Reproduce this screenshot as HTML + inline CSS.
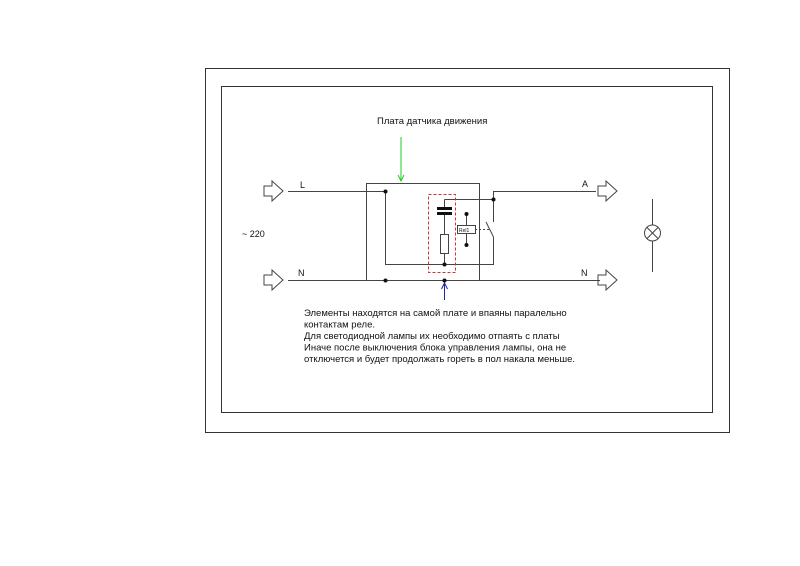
<!DOCTYPE html>
<html><head><meta charset="utf-8"><style>
body{margin:0;background:#fff;}
svg{display:block;}
text{font-family:"Liberation Sans",sans-serif;fill:#111;}
</style></head><body>
<svg width="800" height="566" viewBox="0 0 800 566" xmlns="http://www.w3.org/2000/svg">
<rect x="205.5" y="68.5" width="524" height="364" fill="none" stroke="#333" stroke-width="1"/>
<rect x="221.5" y="86.5" width="491" height="326" fill="none" stroke="#333" stroke-width="1"/>
<text x="377" y="124" font-size="9.5">Плата датчика движения</text>
<line x1="401" y1="137" x2="401" y2="180" stroke="#2c2" stroke-width="1"/>
<path d="M398,175 L401,181 L404,175" fill="none" stroke="#2c2"/>
<line x1="444.5" y1="300" x2="444.5" y2="284" stroke="#22a" stroke-width="1"/>
<path d="M441.5,289 L444.5,283 L447.5,289" fill="none" stroke="#22a"/>
<g stroke="#444" stroke-width="1" fill="none">
<path d="M264,186 h8 v-5 l11,10 l-11,10 v-5 h-8 z"/>
<path d="M264,275 h8 v-5 l11,10 l-11,10 v-5 h-8 z"/>
<path d="M598,186 h8 v-5 l11,10 l-11,10 v-5 h-8 z"/>
<path d="M598,275 h8 v-5 l11,10 l-11,10 v-5 h-8 z"/>
<rect x="366.5" y="183.5" width="113" height="97"/>
<path d="M288,191.5 H385.5 V264.5 H493.5 V237"/>
<path d="M288,280.5 H600"/>
<path d="M493.5,222 V191.5 H596"/>
<path d="M486,222 L493.5,237"/>
<path d="M444.5,199.5 H493.5"/>
<path d="M444.5,199.5 V208 M444.5,214 V234 M444.5,253 V264"/>
<rect x="440.5" y="234.5" width="8" height="19"/>
<path d="M466.5,214 V225 M466.5,233 V245"/>
<rect x="457.5" y="225.5" width="18" height="8"/>
<path d="M652.5,199 V225 M652.5,241 V272"/>
<circle cx="652.5" cy="233" r="8"/>
<path d="M647,227.5 L658,238.5 M658,227.5 L647,238.5"/>
</g>
<path d="M475,229.5 H490" stroke="#444" stroke-dasharray="2,2"/>
<rect x="428.5" y="194.5" width="27" height="78" fill="none" stroke="#c33" stroke-dasharray="3,2"/>
<rect x="437" y="207" width="15" height="3" fill="#111"/>
<rect x="437" y="212" width="15" height="3" fill="#111"/>
<g fill="#111">
<circle cx="385.5" cy="191.5" r="2"/><circle cx="385.5" cy="280.5" r="2"/>
<circle cx="444.5" cy="264.5" r="2"/><circle cx="444.5" cy="280.5" r="2"/>
<circle cx="493.5" cy="199.5" r="2"/>
<circle cx="466.5" cy="214" r="2"/><circle cx="466.5" cy="245" r="2"/>
</g>
<text x="459" y="232" font-size="5">Rel1</text>
<text x="300" y="188" font-size="9">L</text>
<text x="298" y="276" font-size="9">N</text>
<text x="582" y="187" font-size="9">A</text>
<text x="581" y="276" font-size="9">N</text>
<text x="242" y="237" font-size="9">~ 220</text>
<g font-size="9.5">
<text x="304" y="316">Элементы находятся на самой плате и впаяны паралельно</text>
<text x="304" y="327.5">контактам реле.</text>
<text x="304" y="339">Для светодиодной лампы их необходимо отпаять с платы</text>
<text x="304" y="350.5">Иначе после выключения блока управления лампы, она не</text>
<text x="304" y="362">отключется и будет продолжать гореть в пол накала меньше.</text>
</g>
</svg>
</body></html>
